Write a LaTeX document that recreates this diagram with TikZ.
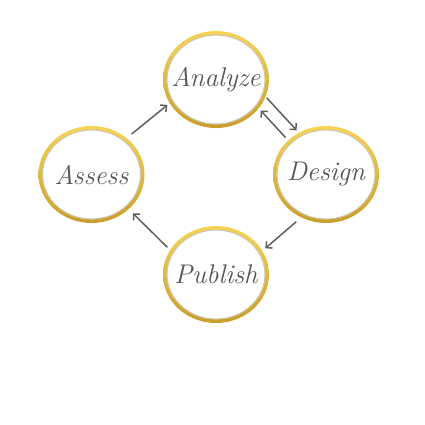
\documentclass[tikz,border=0pt]{standalone}
\usepackage{fontspec}
\usetikzlibrary{shapes.geometric,arrows.meta}
\definecolor{goldtop}{HTML}{F5D455}
\definecolor{goldbot}{HTML}{C99E2C}
\definecolor{rimcol}{HTML}{CFC6AA}
\definecolor{txtcol}{HTML}{555555}
\definecolor{arrcol}{HTML}{5F5F5F}
\tikzset{
  stage/.style={ellipse, minimum width=106pt, minimum height=97pt, inner sep=0pt, outer sep=0pt,
    text=txtcol, font=\fontsize{27}{27}\selectfont\itshape\addfontfeatures{LetterSpace=12,FakeBold=0.6}},
  flow/.style={draw=arrcol, line width=1.5pt, -{Straight Barb[length=4.5pt,width=9pt]}},
}
\newcommand{\ringat}[1]{%
  \shade[top color=goldtop, bottom color=goldbot, even odd rule]
    (#1) ellipse [x radius=53pt, y radius=48.5pt]
    (#1) ellipse [x radius=49.3pt, y radius=44.8pt];
  \draw[rimcol, line width=1.1pt] (#1) ellipse [x radius=49pt, y radius=44.5pt];
}
\begin{document}
\begin{tikzpicture}[x=1pt,y=-1pt]
\useasboundingbox (0,0) rectangle (425,425);
\coordinate (can) at (216,79.5);
\coordinate (cas) at (91.5,174.5);
\coordinate (cde) at (326,174.5);
\coordinate (cpu) at (216,274.5);
\ringat{can}
\ringat{cas}
\ringat{cde}
\ringat{cpu}
\node[stage] (an) at (can) {\makebox[0pt]{Analyze}};
\node[stage] (as) at (cas) {\makebox[0pt]{Assess}};
\node[stage] (de) at (cde) {\makebox[0pt]{Design}};
\node[stage] (pu) at (cpu) {\makebox[0pt]{Publish}};
\draw[flow, shorten <=6.5pt, shorten >=3pt] (as.46) -- (an.207);
\draw[flow, shorten <=1.5pt, shorten >=3.4pt] (an.341) -- (de.123);
\draw[flow, shorten <=4pt, shorten >=3pt] (de.138) -- (an.326);
\draw[flow, shorten <=6.5pt, shorten >=4pt] (de.240) -- (pu.27);
\draw[flow, shorten <=4pt, shorten >=6pt] (pu.152) -- (as.317);
\end{tikzpicture}
\end{document}
